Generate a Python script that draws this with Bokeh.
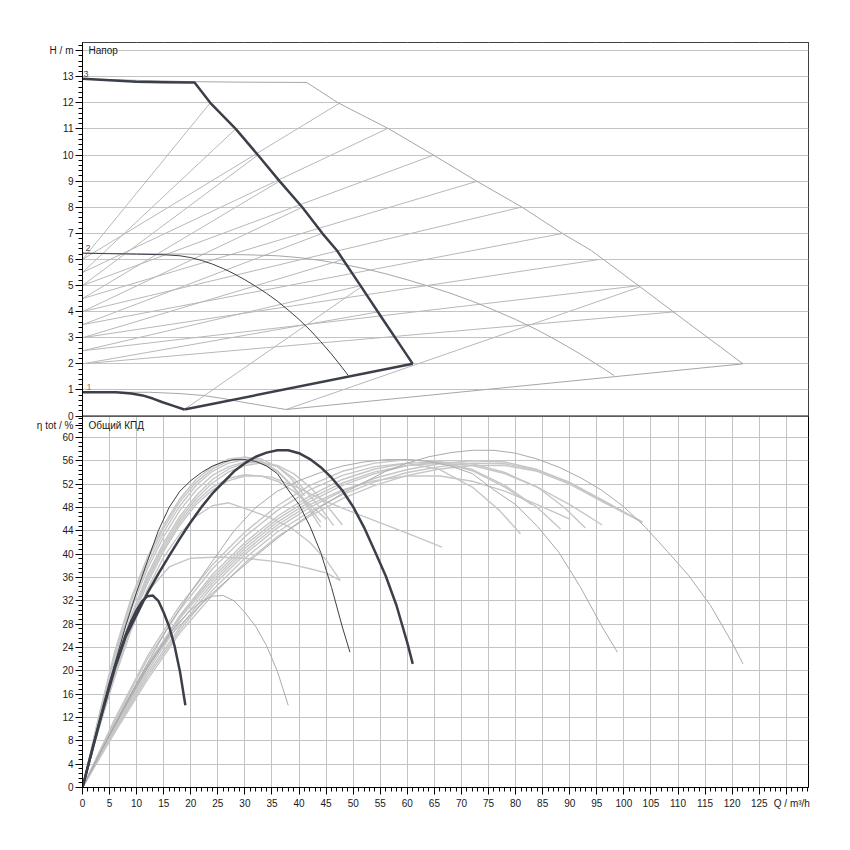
from bokeh.plotting import figure
from bokeh.models import Range1d, FixedTicker, Grid, BoxAnnotation, Span, Label
from bokeh.embed import file_html
from bokeh.resources import INLINE

# ---------------- data: head H (m) vs flow Q (m3/h) ----------------
# single pump, max speed (curve 3)
c3_q = [0, 5, 10, 15, 20.7, 23.6, 28.3, 32.4, 36.4, 40.6, 44.3, 47.0, 51.5, 55.5, 58.9, 61.0]
c3_h = [12.92, 12.86, 12.81, 12.79, 12.78, 12.0, 11.0, 10.0, 9.0, 8.0, 7.0, 6.34, 4.95, 3.7, 2.65, 2.0]
# single pump, curve 2
c2_q = [0, 5, 10, 15, 18, 20, 22, 24, 26, 28, 30, 32, 34, 36, 38, 40, 42, 44, 46, 48, 49.1]
c2_h = [6.24, 6.22, 6.2, 6.18, 6.14, 6.07, 5.96, 5.82, 5.65, 5.45, 5.22, 4.97, 4.7, 4.4, 4.06, 3.7,
        3.3, 2.85, 2.37, 1.85, 1.55]
# single pump, min speed (curve 1) and limit line
c1_q = [0, 6.2, 9, 11.1, 13, 14.8, 16.8, 18.8]
c1_h = [0.91, 0.91, 0.86, 0.79, 0.67, 0.53, 0.39, 0.25]
lim_q = [18.8, 61.0]
lim_h = [0.25, 2.0]
# twin pump (parallel) curves
t3_q = [0, 10, 20, 30, 41.4, 47.2, 56.6, 64.8, 72.8, 81.2, 88.6, 94.0, 103.0, 111.0, 117.8, 122.0]
t3_h = [12.92, 12.86, 12.81, 12.79, 12.78, 12.0, 11.0, 10.0, 9.0, 8.0, 7.0, 6.34, 4.95, 3.7, 2.65, 2.0]
t2_q = [0, 10, 20, 30, 36, 40, 44, 48, 52, 56, 60, 64, 68, 72, 76, 80, 84, 88, 92, 96, 98.2]
t2_h = [6.24, 6.22, 6.2, 6.18, 6.14, 6.07, 5.96, 5.82, 5.65, 5.45, 5.22, 4.97, 4.7, 4.4, 4.06, 3.7,
        3.3, 2.85, 2.37, 1.85, 1.55]
t1_q = [0, 12.4, 18, 22.2, 26, 29.6, 33.6, 37.6]
t1_h = [0.91, 0.91, 0.86, 0.79, 0.67, 0.53, 0.39, 0.25]
tlim_q = [37.6, 122.0]
tlim_h = [0.25, 2.0]
# control lines (dp-v) from the H axis to the max curves
fan_q0 = [0, 0, 0, 0, 0, 0, 0, 0, 0]
fan_h0 = [2.0, 2.5, 3.0, 3.5, 4.0, 4.5, 5.0, 5.5, 6.0]
fan_end_h = [4, 5, 6, 7, 8, 9, 10, 11, 12]
fan_single_q = [54.9, 51.5, 48.2, 44.3, 40.6, 36.4, 32.4, 28.3, 23.6]
fan_twin_q = [109.8, 103.0, 95.5, 88.8, 81.0, 73.0, 64.9, 56.2, 47.6]
corner_q0 = [18.8, 37.6]
corner_h0 = [0.25, 0.25]
corner_q1 = [51.5, 103.0]
corner_h1 = [4.95, 4.95]

# ---------------- data: total efficiency (%) vs Q ----------------
e1_q = [0, 1, 2, 3, 4, 5, 6, 7, 8, 9, 10, 11, 12, 13, 14, 15, 16, 17, 18, 19]
e1 = [0, 3.6, 7.2, 10.8, 14.3, 17.7, 20.8, 23.6, 26.2, 28.5, 30.4, 31.9, 32.8, 32.9, 32.0, 30.0,
      27.6, 24.3, 19.9, 14.1]
e2_q = [0, 2, 4, 6, 8, 10, 12, 14, 16, 18, 20, 22, 24, 26, 28, 30, 32, 34, 36, 38, 40, 42, 44, 46,
        48, 49.4]
e2 = [0, 7.3, 14.5, 21.3, 27.8, 33.5, 38.8, 44.0, 48.0, 50.8, 52.6, 54.0, 55.1, 55.8, 56.2, 56.2,
      55.9, 55.1, 53.8, 51.0, 48.5, 44.8, 40.3, 34.3, 27.5, 23.2]
e3_q = [0, 2, 4, 6, 8, 10, 12, 14, 16, 18, 20, 22, 24, 26, 28, 30, 32, 34, 36, 38, 40, 42, 44, 46,
        48, 50, 52, 54, 56, 58, 60, 61]
e3 = [0, 7.2, 14.0, 20.5, 25.9, 29.6, 33.3, 36.6, 39.7, 42.7, 45.5, 48.1, 50.4, 52.3, 54.2, 55.6,
      56.7, 57.4, 57.8, 57.8, 57.3, 56.3, 54.9, 53.1, 50.9, 48.1, 44.6, 40.5, 36.3, 31.2, 24.8, 21.2]
# twin pump efficiencies
te1_q = [0, 2, 4, 6, 8, 10, 12, 14, 16, 18, 20, 22, 24, 26, 28, 30, 32, 34, 36, 38]
te1 = [0, 3.6, 7.2, 10.8, 14.3, 17.7, 20.8, 23.6, 26.2, 28.5, 30.4, 31.9, 32.8, 32.9, 32.0, 30.0,
       27.6, 24.3, 19.9, 14.1]
te2_q = [0, 4, 8, 12, 16, 20, 24, 28, 32, 36, 40, 44, 48, 52, 56, 60, 64, 68, 72, 76, 80, 84, 88,
         92, 96, 98.8]
te2 = [0, 7.3, 14.5, 21.3, 27.8, 33.5, 38.8, 44.0, 48.0, 50.8, 52.6, 54.0, 55.1, 55.8, 56.2, 56.2,
       55.9, 55.1, 53.8, 51.0, 48.5, 44.8, 40.3, 34.3, 27.5, 23.2]
te3_q = [0, 4, 8, 12, 16, 20, 24, 28, 32, 36, 40, 44, 48, 52, 56, 60, 64, 68, 72, 76, 80, 84, 88,
         92, 96, 100, 104, 108, 112, 116, 120, 122]
te3 = [0, 7.2, 14.0, 20.5, 25.9, 29.6, 33.3, 36.6, 39.7, 42.7, 45.5, 48.1, 50.4, 52.3, 54.2, 55.6,
       56.7, 57.4, 57.8, 57.8, 57.3, 56.3, 54.9, 53.1, 50.9, 48.1, 44.6, 40.5, 36.3, 31.2, 24.8, 21.2]
# intermediate efficiency curves, single pump
s_q = [
    [0, 3, 6, 9, 12, 15, 18, 21, 24, 27, 30, 33, 36, 39, 42, 44.0],
    [0, 3, 6, 9, 12, 15, 18, 21, 24, 27, 30, 33, 36, 39, 42, 44.5, 46.4],
    [0, 3, 6, 9, 12, 15, 18, 21, 24, 27, 30, 35, 40, 45, 50.7, 56, 61, 66.4],
    [0, 3, 6, 9, 12, 15, 18, 21, 24, 27, 31, 34.5, 38.4, 42, 45, 47.6],
    [0, 3, 6, 9, 12, 16, 20, 25, 31, 35, 38.4, 42, 45, 47.6],
    [0, 3, 6, 9, 12, 15, 18, 21, 24, 27, 30, 33, 36, 38.5, 41],
    [0, 3, 6, 9, 12, 15, 18, 21, 24, 27, 30, 33, 36, 39, 41.5],
    [0, 3, 6, 9, 12, 15, 18, 21, 24, 27, 30, 33, 36, 39, 42, 45, 48],
    [0, 3, 6, 9, 12, 15, 18, 21, 24, 27, 30, 33, 36, 40, 44],
    [0, 3, 6, 9, 12, 15, 18, 21, 24, 27, 30, 33, 36, 39, 42, 45],
]
s_eta = [
    [0, 11.5, 22, 30.5, 37.5, 43, 47.5, 51, 53.5, 55, 55.8, 55.6, 54.2, 51.5, 47.5, 44.6],
    [0, 11, 21, 29.5, 36.5, 42, 46.5, 50, 52.8, 54.6, 55.6, 55.8, 55, 53, 50, 47.3, 44.9],
    [0, 10.5, 20.5, 29, 35.5, 41, 45.5, 49, 51.5, 53, 53.6, 53.2, 51.3, 49, 46.9, 45, 43.2, 41.2],
    [0, 10, 19.5, 27.5, 34, 39.5, 43.5, 46.5, 48.3, 48.8, 47.5, 46.3, 44.6, 42, 39, 35.5],
    [0, 10, 19, 27, 33.5, 37.8, 39.3, 39.5, 39.2, 38.8, 38.3, 37.5, 36.8, 35.5],
    [0, 12, 23, 32, 39, 44.5, 49, 52.3, 54.6, 56, 56.6, 56.3, 55, 53, 50],
    [0, 11.8, 22.5, 31.2, 38.2, 43.8, 48.3, 51.8, 54.2, 55.6, 56.2, 55.8, 54.3, 51.5, 48.5],
    [0, 10.8, 20.8, 29.3, 36, 41.5, 46, 49.5, 52.2, 54.1, 55.2, 55.6, 55.2, 53.8, 51.5, 48.5, 45],
    [0, 12.2, 23.5, 32.5, 39.5, 45, 49.5, 52.8, 55, 56.3, 56.6, 56, 54.2, 50.5, 45.5],
    [0, 10.2, 20, 28.3, 35, 40.5, 45, 48.5, 51, 52.6, 53.4, 53.4, 52.5, 50.8, 48.5, 46],
]
# intermediate efficiency curves, twin pump
w_q = [
    [0, 6, 12, 18, 24, 30, 36, 42, 48, 54, 60, 66, 72, 77, 80.9],
    [0, 6, 12, 18, 24, 30, 36, 42, 48, 54, 60, 66, 72, 78, 84, 88.3],
    [0, 6, 12, 18, 24, 30, 36, 42, 48, 54, 60, 66, 72, 78, 84, 89, 92.9],
    [0, 6, 12, 18, 24, 30, 36, 42, 48, 54, 60, 66, 72, 78, 84, 90, 96, 103.4],
    [0, 6, 12, 18, 24, 30, 36, 42, 48, 54, 60, 66, 72, 78, 84, 90, 96, 103.4],
    [0, 6, 12, 18, 24, 30, 36, 42, 48, 54, 60, 66, 72, 78, 83],
    [0, 6, 12, 18, 24, 30, 36, 42, 48, 54, 60, 66, 72, 78, 84, 90, 96],
    [0, 6, 12, 18, 24, 30, 36, 42, 48, 54, 60, 66, 72, 78, 84, 90],
    [0, 6, 12, 18, 24, 30, 36, 42, 48, 54, 60, 66, 72, 78, 84, 90, 96, 103.4],
]
w_eta = [
    [0, 11.5, 22, 30.5, 37.5, 43, 47.5, 51, 53.5, 55, 55.6, 54.5, 51.5, 47.5, 43.5],
    [0, 11, 21, 29.5, 36.5, 42, 46.5, 50, 52.8, 54.6, 55.6, 55.8, 54.5, 51.8, 48, 44.3],
    [0, 10.5, 20.5, 29, 35.5, 41, 45.5, 49, 51.8, 53.8, 55.2, 55.8, 55.5, 54, 51.5, 48, 44.5],
    [0, 10, 19.5, 27.5, 34.5, 40, 44.5, 48, 50.8, 53, 54.5, 55.5, 56, 55.8, 54.5, 52.3, 49.2, 45.5],
    [0, 9.5, 18.5, 26.5, 33, 38.5, 43, 46.5, 49.5, 51.8, 53.5, 54.6, 55.2, 55.2, 54.2, 52, 49, 45.5],
    [0, 11.8, 22.5, 31.2, 38.2, 43.8, 48.3, 51.8, 54.2, 55.6, 56.2, 55.8, 54.3, 51.5, 48.5],
    [0, 10.8, 20.8, 29.3, 36, 41.5, 46, 49.5, 52.2, 54.1, 55.2, 55.6, 55.2, 53.8, 51.5, 48.5, 45],
    [0, 10.2, 20, 28.3, 35, 40.5, 45, 48.5, 51, 52.6, 53.4, 53.4, 52.5, 50.8, 48.5, 46],
    [0, 9.8, 19, 27, 33.8, 39.3, 43.8, 47.3, 50.2, 52.4, 54, 55, 55.6, 55.5, 54.4, 52.2, 49.3, 45.5],
]

# ---------------- axis ticks ----------------
x_major = list(range(0, 131, 5))
x_minor = list(range(0, 135))
h_major = list(range(0, 15))
h_minor = [round(i * 0.2, 1) for i in range(0, 72)]
eta_major = list(range(0, 61, 4))
eta_minor = [round(i * 0.8, 1) for i in range(0, 80)]
eta_title_pos = 62

# ---------------- figure ----------------
H_TOP, H_BOT = 14.31, -14.23
E_END = 127.7
X_END = 134.1
FONT = "Liberation Sans"
DARK = "#3a3f49"
GREY = "#c6c6c6"
GRID = "#c3c3c3"


def eta_to_h(e):
    return H_BOT + e / E_END * (H_TOP - H_BOT)


p = figure(width=818, height=815, output_backend="svg", toolbar_location=None,
           x_range=Range1d(0, X_END), y_range=Range1d(H_BOT, H_TOP),
           min_border_left=82, min_border_right=10, min_border_top=42, min_border_bottom=28)
p.extra_y_ranges = {"eta": Range1d(0, E_END)}
p.xgrid.visible = False
p.ygrid.visible = False
p.outline_line_color = "black"
p.outline_line_alpha = 1
p.background_fill_color = "white"

# grids
p.add_layout(Grid(dimension=0, ticker=FixedTicker(ticks=x_major), grid_line_color=GRID, grid_line_width=1))
p.add_layout(BoxAnnotation(bottom=0, fill_color="white", fill_alpha=1, line_alpha=0, level="underlay"))
p.add_layout(Grid(dimension=1, ticker=FixedTicker(ticks=h_major), grid_line_color=GRID, grid_line_width=1))
p.add_layout(Grid(dimension=1, y_range_name="eta", ticker=FixedTicker(ticks=eta_major),
                  grid_line_color=GRID, grid_line_width=1))
p.add_layout(Span(location=0, dimension="width", line_color="black", line_width=1))

# axes
ax = p.xaxis[0]
ax.ticker = FixedTicker(ticks=x_major, minor_ticks=x_minor)
ax.major_label_overrides = {130: "\u00a0\u00a0\u00a0\u00a0Q / m³/h"}
ay = p.yaxis[0]
left_major = [float(h) for h in h_major] + [eta_to_h(e) for e in eta_major] + [eta_to_h(eta_title_pos)]
left_minor = [h for h in h_minor] + [eta_to_h(e) for e in eta_minor]
ay.ticker = FixedTicker(ticks=left_major, minor_ticks=left_minor)
overrides = {float(h): str(h) for h in h_major}
overrides[14.0] = "H / m"
for e in eta_major:
    overrides[eta_to_h(e)] = str(e)
overrides[eta_to_h(eta_title_pos)] = "η tot / %"
ay.major_label_overrides = overrides
for a in (ax, ay):
    a.axis_line_color = "black"
    a.major_tick_line_color = "black"
    a.minor_tick_line_color = "black"
    a.major_tick_in = 0
    a.major_tick_out = 7
    a.minor_tick_in = 0
    a.minor_tick_out = 4
    a.major_label_text_font = FONT
    a.major_label_text_font_size = "10px"
    a.major_label_text_color = "#1a1a1a"
ax.major_label_standoff = 3
ay.major_label_standoff = 2

# --- top panel: grey lines ---
p.segment(x0=fan_q0, y0=fan_h0, x1=fan_single_q, y1=fan_end_h, line_color="#b8b8b8", line_width=1)
p.segment(x0=fan_q0, y0=fan_h0, x1=fan_twin_q, y1=fan_end_h, line_color="#b8b8b8", line_width=1)
p.segment(x0=corner_q0, y0=corner_h0, x1=corner_q1, y1=corner_h1, line_color="#b8b8b8", line_width=1)
for qq, hh in ((t3_q, t3_h), (t2_q, t2_h), (t1_q, t1_h), (tlim_q, tlim_h)):
    p.line(qq, hh, line_color="#a6a6a6", line_width=1)
# --- top panel: dark curves ---
p.line(c2_q, c2_h, line_color=DARK, line_width=1)
for qq, hh in ((c3_q, c3_h), (c1_q, c1_h), (lim_q, lim_h)):
    p.line(qq, hh, line_color=DARK, line_width=2.5, line_join="round")

# --- bottom panel: grey efficiency curves ---
for qq, ee in zip(s_q + w_q, s_eta + w_eta):
    p.line(qq, ee, y_range_name="eta", line_color=GREY, line_width=1.4)
for qq, ee in ((te1_q, te1), (te2_q, te2), (te3_q, te3)):
    p.line(qq, ee, y_range_name="eta", line_color="#aaaaaa", line_width=1)
# --- bottom panel: dark efficiency curves ---
p.line(e2_q, e2, y_range_name="eta", line_color=DARK, line_width=1)
p.line(e1_q, e1, y_range_name="eta", line_color=DARK, line_width=2.5, line_join="round")
p.line(e3_q, e3, y_range_name="eta", line_color=DARK, line_width=2.5, line_join="round")

# --- texts inside the frame ---
def lab(**kw):
    base = dict(text_font=FONT, text_font_size="10px", text_color="#1a1a1a", text_baseline="middle")
    base.update(kw)
    p.add_layout(Label(**base))

lab(x=0, y=14, x_offset=6, text="Напор")
lab(x=0, y=eta_title_pos, y_range_name="eta", x_offset=6, text="Общий КПД")
lab(x=0, y=c3_h[0], x_offset=1, y_offset=2, text="3", text_baseline="bottom", text_color="#444a5a", text_font_size="9px")
lab(x=0, y=c2_h[0], x_offset=3, y_offset=2, text="2", text_baseline="bottom", text_color="#5a4a44", text_font_size="9px")
lab(x=0, y=c1_h[0], x_offset=4, y_offset=2, text="1", text_baseline="bottom", text_color="#a08050", text_font_size="9px")

open("out.html", "w").write(file_html(p, INLINE))
